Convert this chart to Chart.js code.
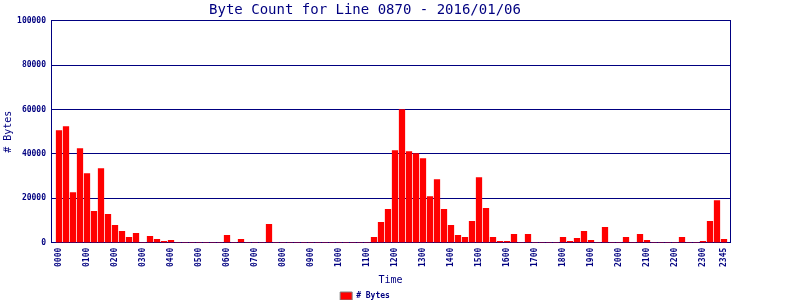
<!DOCTYPE html>
<html>
<head>
<meta charset="utf-8">
<script src="https://cdn.jsdelivr.net/npm/chart.js@4"></script>
<style>
  html, body { margin: 0; padding: 0; background: #fff; }
  #wrap { width: 800px; height: 300px; }
</style>
</head>
<body>
<div id="wrap"><canvas id="byteChart" width="800" height="300"></canvas></div>
<script>
// one value per 15 minute slot, 0000 .. 2345
const byteCounts = [
  50500, 52300, 22600, 42400, 31200, 14100, 33400, 12750,
  7800, 5100, 2400, 4200, 0, 2850, 1500, 600,
  1050, 0, 0, 0, 0, 0, 0, 0,
  3300, 0, 1500, 0, 0, 0, 8250, 0,
  0, 0, 0, 0, 0, 0, 0, 0,
  0, 0, 0, 0, 0, 2400, 9150, 15000,
  41550, 60000, 41100, 40200, 37950, 20850, 28500, 15000,
  7800, 3300, 2400, 9600, 29400, 15450, 2400, 600,
  600, 3750, 0, 3750, 0, 0, 0, 0,
  2400, 600, 1950, 5100, 1050, 0, 6900, 0,
  0, 2400, 0, 3750, 1050, 0, 0, 0,
  0, 2400, 0, 0, 600, 9600, 19050, 1500
];
const tickLabels = ['0000','0100','0200','0300','0400','0500','0600','0700','0800','0900','1000','1100',
  '1200','1300','1400','1500','1600','1700','1800','1900','2000','2100','2200','2300','2345'];
const yTicks = [0, 20000, 40000, 60000, 80000, 100000];

const navy = '#000080';
const mono = '"DejaVu Sans Mono", monospace';
const slotOf = t => parseInt(t.slice(0, 2)) * 4 + parseInt(t.slice(2)) / 15;

const ctx = document.getElementById('byteChart').getContext('2d');
new Chart(ctx, {
  type: 'bar',
  data: {
    datasets: [{
      label: '# Bytes',
      data: byteCounts.map((v, i) => ({ x: i, y: v })),
      backgroundColor: '#ff0000',
      borderWidth: 0,
      barThickness: 5.6
    }]
  },
  options: {
    responsive: false,
    animation: false,
    layout: { padding: { left: 0, right: 70, top: 0, bottom: -10 } },
    plugins: {
      title: {
        display: true,
        text: 'Byte Count for Line 0870 - 2016/01/06',
        color: navy,
        font: { family: mono, size: 14, weight: 'normal' },
        padding: { top: 2, bottom: 2 }
      },
      legend: {
        position: 'bottom',
        labels: {
          color: navy,
          font: { family: mono, size: 8, weight: 'bold' },
          boxWidth: 12,
          boxHeight: 8,
          padding: 1,
          generateLabels: chart => Chart.defaults.plugins.legend.labels.generateLabels(chart)
            .map(l => Object.assign(l, { strokeStyle: '#808080', lineWidth: 1 }))
        }
      },
      tooltip: { enabled: false }
    },
    scales: {
      x: {
        type: 'linear',
        offset: false,
        min: -8 / 7,
        max: 95 + 6 / 7,
        afterBuildTicks: s => { s.ticks = tickLabels.map(t => ({ value: slotOf(t) })); },
        ticks: {
          autoSkip: false,
          minRotation: 90,
          maxRotation: 90,
          padding: 5,
          color: navy,
          font: { family: mono, size: 8, weight: 'bold' },
          callback: v => tickLabels.find(t => slotOf(t) === v) || ''
        },
        grid: { display: false, drawTicks: false },
        border: { color: navy },
        title: {
          display: true,
          text: 'Time',
          color: navy,
          font: { family: mono, size: 10, weight: 'normal' },
          padding: { top: 2, bottom: 5 }
        }
      },
      y: {
        min: 0,
        max: 100000,
        afterBuildTicks: s => { s.ticks = yTicks.map(v => ({ value: v })); },
        afterFit: s => { s.width = 51; },
        ticks: {
          color: navy,
          padding: 5,
          font: { family: mono, size: 8, weight: 'bold' },
          callback: v => String(v)
        },
        grid: { color: navy, drawTicks: false },
        border: { color: navy },
        title: {
          display: true,
          text: '# Bytes',
          color: navy,
          font: { family: mono, size: 10, weight: 'normal' },
          padding: { top: 2, bottom: 0 }
        }
      },
      yRight: {
        position: 'right',
        min: 0,
        max: 100000,
        afterFit: s => { s.width = 0; },
        ticks: { display: false },
        grid: { display: false },
        border: { color: navy }
      }
    }
  }
});
</script>
</body>
</html>
